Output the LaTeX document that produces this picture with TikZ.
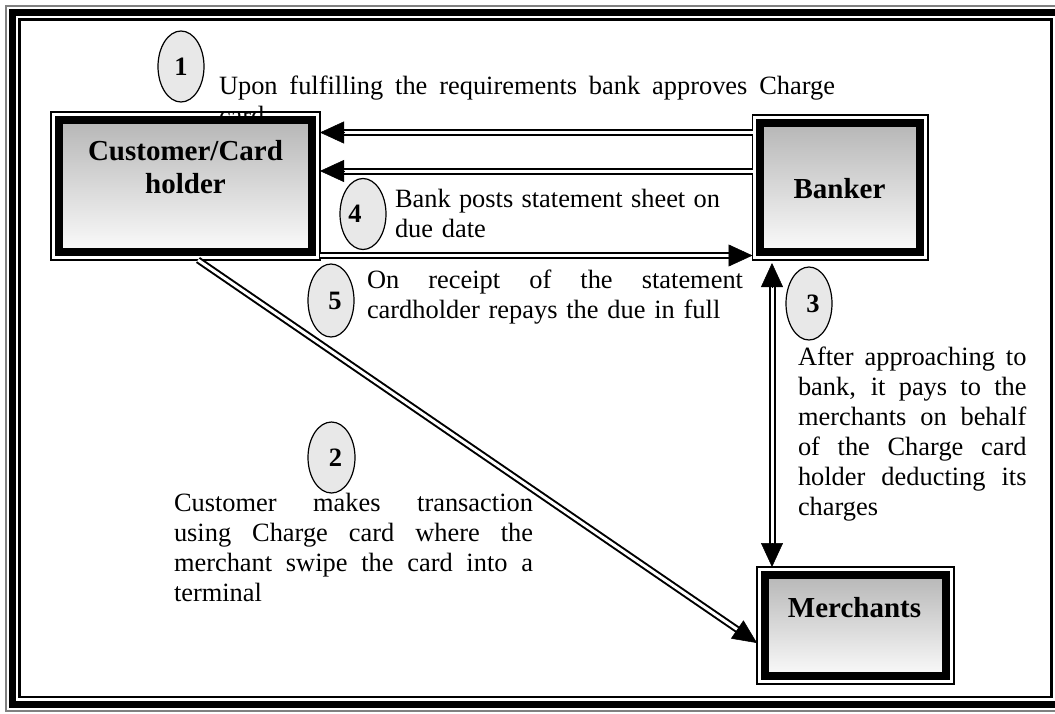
\documentclass[tikz,border=0pt]{standalone}
\usepackage{fontspec}
\setmainfont{Liberation Serif}
\usetikzlibrary{arrows.meta,calc,shapes.geometric}
\definecolor{boxtop}{RGB}{178,178,178}
\definecolor{numfill}{RGB}{232,232,232}
\newcommand{\jline}[2]{\makebox[#1pt][s]{\spaceskip=0pt\xspaceskip=0pt\relax #2}}
\begin{document}
\begin{tikzpicture}[x=1pt,y=-1pt,
  txt/.style={font=\fontsize{26.4}{30}\selectfont, inner sep=0pt, outer sep=0pt, anchor=north west, align=left},
  lbl/.style={font=\fontsize{29}{33}\selectfont\bfseries, inner sep=0pt, align=center},
  box/.style={draw, line width=1.6pt, inner sep=0pt, outer sep=0pt,
    path picture={\draw[line width=8pt, top color=boxtop, bottom color=white]
      ($(path picture bounding box.south west)+(7.7,-7.7)$) rectangle
      ($(path picture bounding box.north east)+(-7.7,7.7)$);}},
  num/.style={ellipse, draw, line width=1.2pt, fill=numfill, minimum width=46pt,
    minimum height=71pt, inner sep=0pt, font=\fontsize{26.5}{29}\selectfont\bfseries},
  dbl/.style={draw, line width=2pt, double=white, double distance=3pt},
  head/.style={line width=0.5pt, -{Triangle[length=24pt,width=22pt]}}]
\useasboundingbox (0,0) rectangle (1055,713);
\clip (0,0) rectangle (1055,713);
% frame
\draw[gray, line width=1.6pt] (5.8,5.8) rectangle (1080,710.9);
\draw[line width=6.8pt] (12.5,12.5) rectangle (1070,704.6);
\draw[line width=2.2pt] (19.4,19.4) rectangle (1051.5,697.2);
% texts
\node[txt, text width=620pt] (t1) at (219,74.5)
  {\jline{616}{\rule{0pt}{20pt}Upon fulfilling the requirements bank approves Charge}\\card};
\node[txt, text width=330pt] (t4) at (395,187)
  {\jline{325}{\rule{0pt}{20pt}Bank posts statement sheet on}\\due date};
\node[txt, text width=380pt] (t5) at (367,268.7)
  {\jline{376}{\rule{0pt}{20pt}On receipt of the statement}\\cardholder repays the due in full};
\node[txt, text width=232pt] (t3) at (798,345)
  {\jline{228.5}{\rule{0pt}{20pt}After approaching to}\\
   \jline{228.5}{bank, it pays to the}\\
   \jline{228.5}{merchants on behalf}\\
   \jline{228.5}{of the Charge card}\\
   \jline{228.5}{holder deducting its}\\
   charges};
\node[txt, text width=362pt] (t2) at (174,491.7)
  {\jline{359}{\rule{0pt}{20pt}Customer makes transaction}\\
   \jline{359}{using Charge card where the}\\
   \jline{359}{merchant swipe the card into a}\\
   terminal};
% boxes
\node[box, minimum width=269pt, minimum height=148pt] (cust) at (185.5,186) {};
\node[box, minimum width=175.5pt, minimum height=145pt] (bank) at (840.25,187.5) {};
\node[box, minimum width=197pt, minimum height=117pt] (merch) at (855.5,625.5) {};
\node[lbl] (custlbl) at (185.5,166.7) {Customer/Card\\holder};
\node[lbl] (banklbl) at (839.5,188.5) {Banker};
\node[lbl] (merchlbl) at (854.5,608) {Merchants};
% numbered ellipses
\node[num] (n1) at (181,66.5) {1};
\node[num] (n4) at (363,214) {4\hspace*{16pt}};
\node[num, minimum height=73pt] (n5) at (331,300.5) {\hspace*{8pt}5};
\node[num, minimum height=73pt] (n3) at (809,303.5) {\hspace*{8pt}3};
\node[num, minimum width=47pt] (n2) at (331.5,457.5) {\hspace*{8pt}2};
% connectors
\coordinate (a1s) at (bank.west |- 0,132.5);
\coordinate (a1t) at (cust.east |- 0,132.5);
\draw[dbl] (a1s) -- ($(a1t)!20pt!(a1s)$);
\draw[head] ($(a1t)!24pt!(a1s)$) -- (a1t);
\coordinate (a2s) at (bank.west |- 0,171);
\coordinate (a2t) at (cust.east |- 0,171);
\draw[dbl] (a2s) -- ($(a2t)!20pt!(a2s)$);
\draw[head] ($(a2t)!24pt!(a2s)$) -- (a2t);
\coordinate (a4s) at (cust.east |- 0,255.5);
\coordinate (a4t) at (bank.west |- 0,255.5);
\draw[dbl] (a4s) -- ($(a4t)!20pt!(a4s)$);
\draw[head] ($(a4t)!24pt!(a4s)$) -- (a4t);
\path (bank.south -| 772,0) ++(0,3) coordinate (v1);
\coordinate (v2) at (merch.north -| 772,0);
\draw[dbl] ($(v1)!20pt!(v2)$) -- ($(v2)!20pt!(v1)$);
\draw[head] ($(v1)!24pt!(v2)$) -- (v1);
\draw[head] ($(v2)!24pt!(v1)$) -- (v2);
\coordinate (d1) at (cust.south -| 198,0);
\coordinate (d2) at (merch.west |- 0,643);
\draw[dbl] (d1) -- ($(d2)!20pt!(d1)$);
\draw[head] ($(d2)!24pt!(d1)$) -- (d2);
\end{tikzpicture}
\end{document}
